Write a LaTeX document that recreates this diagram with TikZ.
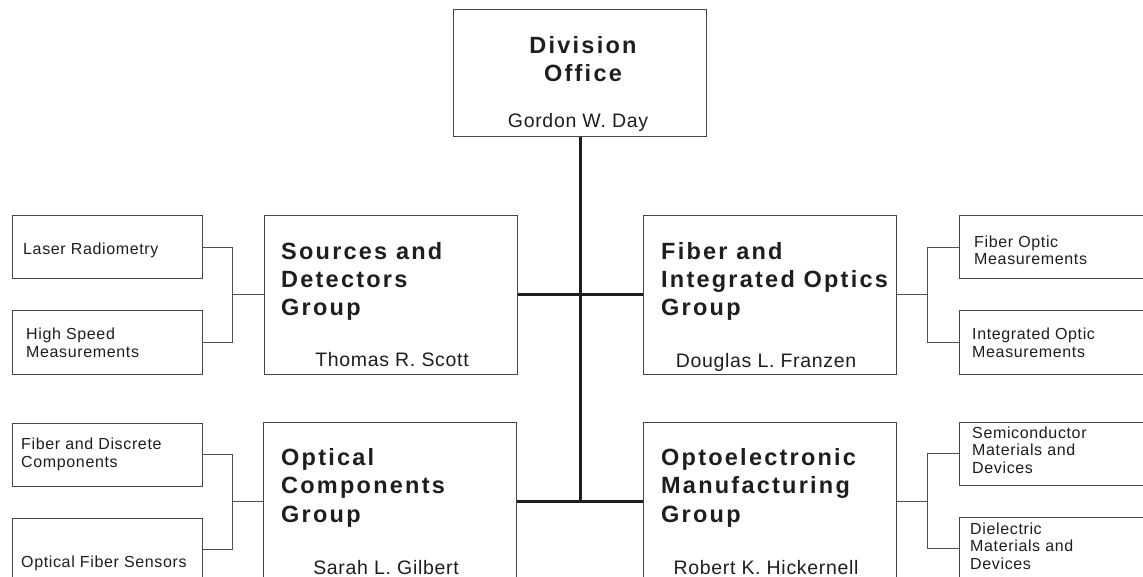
\documentclass[tikz,border=0pt]{standalone}
\usepackage{fontspec}
\setmainfont{Liberation Sans}
\newfontfamily\titlefont[LetterSpace=9.5]{Liberation Sans}
\newfontfamily\namefont[LetterSpace=3.5]{Liberation Sans}
\newfontfamily\subfont[LetterSpace=4]{Liberation Sans}
\usetikzlibrary{calc}
\definecolor{ink}{HTML}{1E1E1E}
\definecolor{edge}{HTML}{464646}
\definecolor{conncol}{HTML}{505050}
\begin{document}
\begin{tikzpicture}[x=1pt,y=-1pt,
  box/.style={draw=edge, line width=1pt, rectangle, inner sep=0pt},
  groupbox/.style={box, minimum width=253pt, minimum height=158pt},
  subbox/.style={box, minimum width=190pt, minimum height=63pt},
  rsubbox/.style={box, minimum width=206pt, minimum height=63pt},
  titletext/.style={inner sep=0pt, text=ink, align=left, anchor=base west,
    font=\titlefont\bfseries\fontsize{23.5}{28.2}\selectfont},
  nametext/.style={inner sep=0pt, text=ink, anchor=base,
    font=\namefont\fontsize{19.5}{24}\selectfont},
  subtext/.style={inner sep=0pt, text=ink, align=left, anchor=base west,
    font=\subfont\fontsize{16}{17.3}\selectfont},
  conn/.style={draw=conncol, line width=1pt},
  trunk/.style={draw=ink, line width=3pt}
]
\useasboundingbox (0,0) rectangle (1143,577);
\clip (0,0) rectangle (1143,577);
\fill[white] (0,0) rectangle (1143,577);

% main boxes
\node[box, minimum width=253pt, minimum height=127pt] (do) at (580,73.5) {};
\node[groupbox] (sd) at (390.5,295) {};
\node[groupbox] (fi) at (770,295) {};
\node[groupbox] (oc) at (390,501) {};
\node[groupbox] (om) at (769.5,501) {};

% sub boxes left
\node[subbox] (lr) at (107,247.5) {};
\node[subbox] (hs) at (107,342.5) {};
\node[subbox] (fd) at (107,454.5) {};
\node[subbox] (ofs) at (107,549.5) {};
% sub boxes right
\node[rsubbox] (fo) at (1062,247.5) {};
\node[rsubbox] (io) at (1062,342.5) {};
\node[rsubbox] (sm) at (1062,453.5) {};
\node[rsubbox] (de) at (1062,548.5) {};

% texts (anchor base = baseline of the last line)
\node[titletext, align=center, anchor=base] (dot) at (583,82) {Division\\Office};
\node[nametext] (don) at (578,128) {Gordon W. Day};

\node[titletext] (sdt) at (281,316) {Sources and\\Detectors\\Group};
\node[nametext] (sdn) at (392,366) {Thomas R. Scott};

\node[titletext] (fit) at (661,316) {Fiber and\\Integrated Optics\\Group};
\node[nametext] (fin) at (766,367) {Douglas L. Franzen};

\node[titletext] (oct) at (281,522) {Optical\\Components\\Group};
\node[nametext] (ocn) at (386,574) {Sarah L. Gilbert};

\node[titletext] (omt) at (661,522) {Optoelectronic\\Manufacturing\\Group};
\node[nametext] (omn) at (766,574) {Robert K. Hickernell};

\node[subtext] (lrt) at (23,255) {Laser Radiometry};
\node[subtext] (hst) at (26,357) {High Speed\\Measurements};
\node[subtext] (fdt) at (21,467) {Fiber and Discrete\\Components};
\node[subtext] (ofst) at (21,567) {Optical Fiber Sensors};

\node[subtext] (fot) at (974,265) {Fiber Optic\\Measurements};
\node[subtext] (iot) at (972,357) {Integrated Optic\\Measurements};
\node[subtext] (smt) at (972,473) {Semiconductor\\Materials and\\Devices};
\node[subtext] (det) at (970,569) {Dielectric\\Materials and\\Devices};

% junction coordinates
\coordinate (jl) at (232,295);
\coordinate (jr) at (927,295);
\coordinate (jbl) at (232,501);
\coordinate (jbr) at (927,501);

% thin connectors
\draw[conn] (lr.east) -| (jl);
\draw[conn] (hs.east) -| (jl);
\draw[conn] (jl) -- (sd.west);
\draw[conn] (fo.west) -| (jr);
\draw[conn] (io.west) -| (jr);
\draw[conn] (jr) -- (fi.east);
\draw[conn] (fd.east) -| (jbl);
\draw[conn] (ofs.east) -| (jbl);
\draw[conn] (jbl) -- (oc.west);
\draw[conn] (sm.west) -| (jbr);
\draw[conn] (de.west) -| (jbr);
\draw[conn] (jbr) -- (om.east);

% trunk
\draw[trunk] (do.south) -- (do.south |- oc.east);
\draw[trunk] (sd.east) -- (fi.west);
\draw[trunk] (oc.east) -- (om.west);
\end{tikzpicture}
\end{document}
